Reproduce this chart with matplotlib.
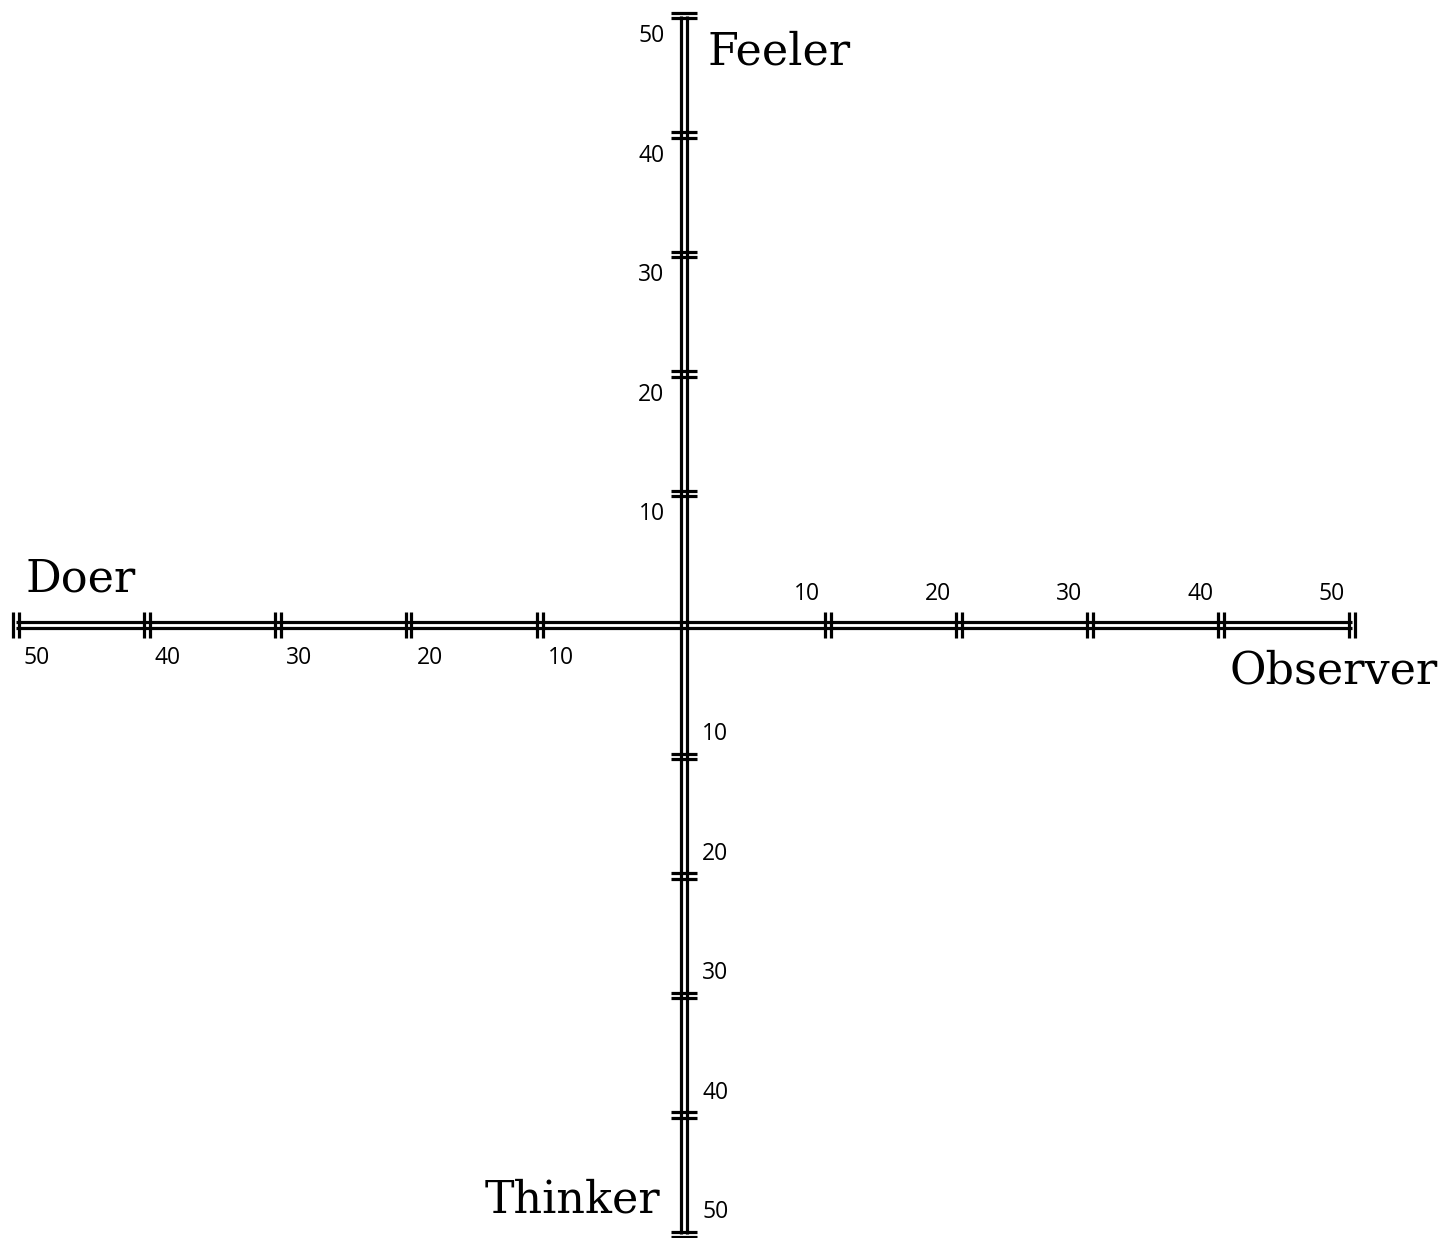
import matplotlib.pyplot as plt
from matplotlib.transforms import ScaledTranslation

# tick values on each half axis
ticks = [10, 20, 30, 40, 50]
tick_labels = ['10', '20', '30', '40', '50']
# pole names
top_name, bottom_name = 'Feeler', 'Thinker'
left_name, right_name = 'Doer', 'Observer'

gap = 1.0  # the first segment from the centre is a bit longer

fig = plt.figure(figsize=(14.5, 12.38), dpi=100)
ax = fig.add_axes([0, 0, 1, 1])
ax.set_xlim(-684 / 13.1, (1450 - 684) / 13.1)
ax.set_ylim(-(1238 - 625) / 11.95, 625 / 11.95)
ax.axis('off')


def shift(dx, dy):
    # offset in pixels
    return ax.transData + ScaledTranslation(dx / 100, dy / 100, fig.dpi_scale_trans)


lw = 2.3
end = ticks[-1] + gap
pos = [t + gap for t in ticks]

# double lines
for d in (-2.6, 2.6):
    ax.plot([-end, end], [0, 0], color='black', lw=lw, transform=shift(0, d), solid_capstyle='butt')
    ax.plot([0, 0], [-end, end], color='black', lw=lw, transform=shift(d, 0), solid_capstyle='butt')

# double bars at ticks
for d in (-2.6, 2.6):
    ax.plot(pos + [-p for p in pos], [0] * (2 * len(pos)), ls='none', marker='|',
            ms=18.5, mew=lw, color='black', transform=shift(d, 0))
    ax.plot([0] * (2 * len(pos)), pos + [-p for p in pos], ls='none', marker='_',
            ms=18.5, mew=lw, color='black', transform=shift(0, d))

num = dict(fontsize=16.5, family='Open Sans', color='black')
for p, lab in zip(pos, tick_labels):
    # right half: above, to the left of the tick
    ax.annotate(lab, (p, 0), xytext=(-15, 22), textcoords='offset points', ha='center', va='center', **num)
    # left half: below, right of the tick
    ax.annotate(lab, (-p, 0), xytext=(15, -24), textcoords='offset points', ha='center', va='center', **num)
    # top half: left, below the tick
    ax.annotate(lab, (0, p), xytext=(-14, -15), textcoords='offset points', ha='right', va='center', **num)
    # bottom half: right, above the tick
    ax.annotate(lab, (0, -p), xytext=(13, 16), textcoords='offset points', ha='left', va='center', **num)

name = dict(fontsize=32, family='DejaVu Serif', color='black')
ax.annotate(top_name, (0, end), xytext=(17, -26), textcoords='offset points', ha='left', va='center', **name)
ax.annotate(bottom_name, (0, -end), xytext=(-17, 25), textcoords='offset points', ha='right', va='center', **name)
ax.annotate(left_name, (-end, 0), xytext=(7, 33), textcoords='offset points', ha='left', va='center', **name)
ax.annotate(right_name, (end, 0), xytext=(-88, -33), textcoords='offset points', ha='left', va='center', **name)

fig.savefig('out.png', dpi=100, facecolor='white')
